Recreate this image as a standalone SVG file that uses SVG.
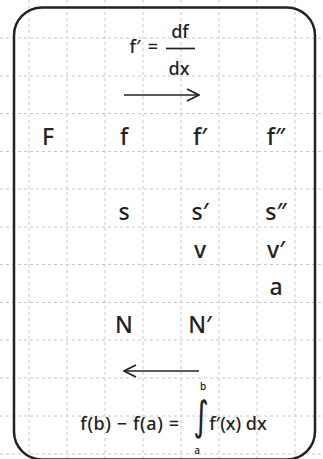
<svg xmlns="http://www.w3.org/2000/svg" width="323" height="459" viewBox="0 0 323 459">
<defs>
<style>
.grid{stroke:#c8c8c8;stroke-width:1;stroke-dasharray:3 3;fill:none}
.t{font-family:"Noto Sans","DejaVu Sans",sans-serif;fill:#222;text-anchor:middle;font-weight:500}
.big{font-size:23px}
.mid{font-size:18px}
.sm{font-size:10px}
.ln{stroke:#222;stroke-width:1.7;fill:none}
</style>
<marker id="ah" viewBox="0 0 14 14" refX="13" refY="7" markerWidth="14" markerHeight="14" markerUnits="userSpaceOnUse" orient="auto">
<path d="M1,1 L13,7 L1,13" fill="none" stroke="#222" stroke-width="1.7"/>
</marker>
</defs>
<rect width="323" height="459" fill="#fff"/>
<g id="grid" class="grid">
<path d="M29,0V459M67,0V459M105,0V459M143,0V459M181,0V459M219,0V459M257,0V459M295,0V459"/>
<path d="M0,38H323M0,76H323M0,113.5H323M0,151.5H323M0,189H323M0,227H323M0,264.5H323M0,302.5H323M0,340H323M0,378H323M0,416H323M0,454H323"/>
</g>
<rect id="frame" x="14" y="7.5" width="301" height="452" rx="28" ry="28" fill="none" stroke="#222" stroke-width="2.5"/>
<g id="formula-top">
<text class="t mid" x="135" y="53">f′</text>
<text class="t mid" x="153" y="53">=</text>
<line class="ln" x1="166" y1="48.5" x2="195" y2="48.5"/>
<text class="t mid" x="180" y="38">df</text>
<text class="t mid" x="179" y="75">dx</text>
</g>
<g id="connectors">
<line class="ln" x1="124" y1="95" x2="199" y2="95" marker-end="url(#ah)"/>
<line class="ln" x1="199" y1="371" x2="124" y2="371" marker-end="url(#ah)"/>
</g>
<g id="n-F"><text class="t big" x="48" y="145">F</text></g>
<g id="n-f"><text class="t big" x="124" y="145">f</text></g>
<g id="n-f1"><text class="t big" x="200" y="145">f′</text></g>
<g id="n-f2"><text class="t big" x="276" y="145">f″</text></g>
<g id="n-s"><text class="t big" x="124" y="220">s</text></g>
<g id="n-s1"><text class="t big" x="200" y="220">s′</text></g>
<g id="n-s2"><text class="t big" x="276" y="220">s″</text></g>
<g id="n-v"><text class="t big" x="200" y="258">v</text></g>
<g id="n-v1"><text class="t big" x="276" y="258">v′</text></g>
<g id="n-a"><text class="t big" x="276" y="295">a</text></g>
<g id="n-N"><text class="t big" x="124" y="333">N</text></g>
<g id="n-N1"><text class="t big" x="200" y="333">N′</text></g>
<g id="formula-bottom">
<text class="t mid" x="130" y="430" style="letter-spacing:0.6px">f(b) − f(a) =</text>
<text class="t" x="0" y="0" transform="translate(201,430) scale(1,1.35)" style="font-size:30px;font-family:'DejaVu Sans',sans-serif;font-weight:normal">∫</text>
<text class="t mid" x="238" y="430">f′(x) dx</text>
<text class="t sm" x="203" y="390">b</text>
<text class="t sm" x="197" y="454">a</text>
</g>
</svg>
